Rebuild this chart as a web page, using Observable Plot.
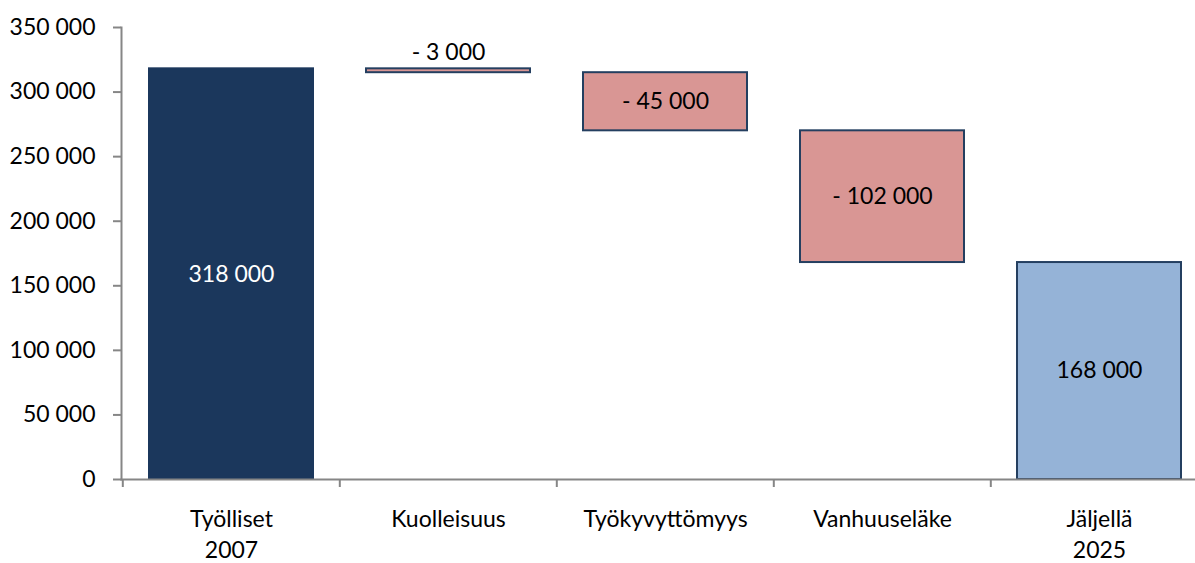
<!DOCTYPE html>
<html><head><meta charset="utf-8">
<script src="https://cdn.jsdelivr.net/npm/d3@7"></script>
<script src="https://cdn.jsdelivr.net/npm/@observablehq/plot@0.6"></script>
<style>body{margin:0;background:#fff;overflow:hidden}</style>
</head><body><div id="chart"></div>
<script>
const categories = ["Työlliset\n2007", "Kuolleisuus", "Työkyvyttömyys", "Vanhuuseläke", "Jäljellä\n2025"];
const values = [318000, -3000, -45000, -102000, 168000];
const kinds = ["total", "change", "change", "change", "total"];
const yTicks = [0, 50000, 100000, 150000, 200000, 250000, 300000, 350000];

const loc = d3.formatLocale({decimal: ",", thousands: " ", grouping: [3], currency: ["", ""]});
const fmt = loc.format(",d");

let run = 0;
const rows = categories.map((c, i) => {
  let y1, y2;
  if (kinds[i] === "total") { y1 = 0; y2 = values[i]; run = values[i]; }
  else { y1 = run; y2 = run + values[i]; run = y2; }
  return {cat: c, i, y1, y2, value: values[i], kind: kinds[i],
    label: values[i] < 0 ? "- " + fmt(-values[i]) : fmt(values[i])};
});

const W = 1195, H = 563;
const xRange = [121, 1208];
const step = (xRange[1] - xRange[0]) / categories.length;
const FONT = "Lato, 'Open Sans', sans-serif";
const FS = 23;
const fillOf = d => d.kind === "change" ? "#D99694" : (d.i === 0 ? "#1B375C" : "#95B3D7");
const strokeOf = d => d.i === 0 ? "#1B375C" : "#243F60";
const inside = d => Math.abs(d.value) > 10000;

const chart = Plot.plot({
  width: W, height: H,
  marginTop: 27, marginBottom: 84, marginLeft: 121, marginRight: 0,
  style: {fontFamily: FONT, fontSize: FS + "px", color: "#000", background: "#fff"},
  x: {domain: categories, range: xRange, paddingInner: 0.245, paddingOuter: 0.1225, axis: null, label: null},
  y: {domain: [0, 350000], axis: null, label: null},
  color: {type: "identity"},
  marks: [
    Plot.barY(rows, {x: "cat", y1: "y1", y2: "y2", fill: fillOf, stroke: strokeOf, strokeWidth: 2}),
    Plot.text(rows.filter(inside), {x: "cat", y: d => (d.y1 + d.y2) / 2, text: "label",
      fill: d => d.i === 0 ? "#fff" : "#000", fontSize: FS}),
    Plot.text(rows.filter(d => !inside(d)), {x: "cat", y: d => Math.max(d.y1, d.y2), text: "label",
      dy: -16, fill: "#000", fontSize: FS}),
    Plot.frame({anchor: "left", stroke: "#868686", strokeWidth: 2}),
    Plot.frame({anchor: "bottom", stroke: "#868686", strokeWidth: 2}),
    Plot.axisY({ticks: yTicks, tickFormat: fmt, tickSize: 8, tickPadding: 18, fontSize: FS,
      stroke: "#868686", strokeWidth: 2, fill: "#000", label: null}),
    Plot.axisX({tickSize: 8, tickFormat: () => "", dx: -step / 2, stroke: "#868686", strokeWidth: 2, label: null}),
    Plot.text(categories, {x: d => d, frameAnchor: "bottom", lineAnchor: "top", dy: 25,
      lineHeight: 1.35, fontSize: FS, fill: "#000"})
  ]
});
document.getElementById("chart").appendChild(chart);
</script>
</body></html>
